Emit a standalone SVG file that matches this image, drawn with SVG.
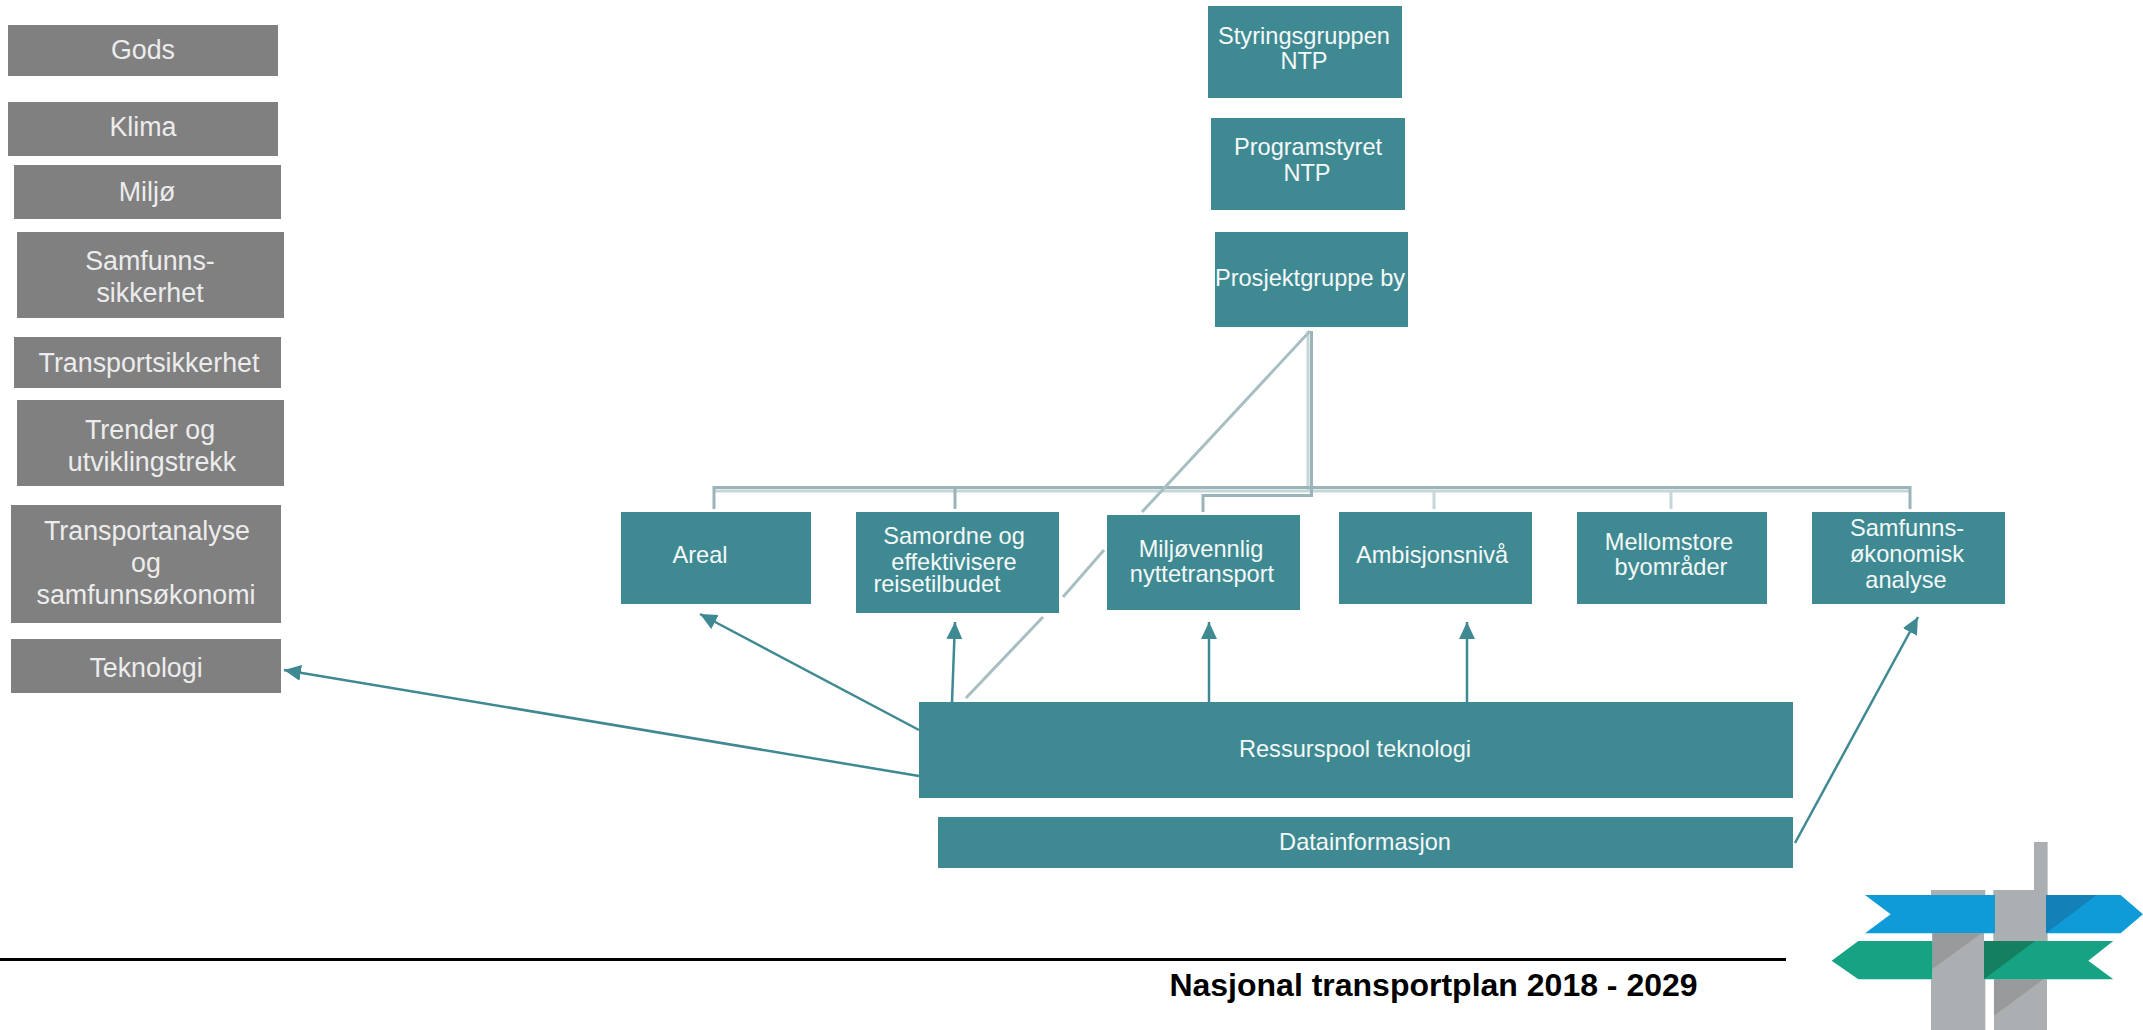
<svg xmlns="http://www.w3.org/2000/svg" width="2143" height="1030" viewBox="0 0 2143 1030">
<style>
.g{fill:#808080}.t{fill:#3f8a92}
text{font-family:"Liberation Sans",Arial,sans-serif;text-anchor:middle}
.gt{fill:#ececec;font-size:26.8px}.tt{fill:#f4f8f8;font-size:23.6px}
.arr{fill:none;stroke:#3f8a92;stroke-width:2.5;marker-end:url(#ah)}
.tree{fill:none;stroke:#9ab4b8;stroke-width:3}
.light{fill:none;stroke:#c5d6d8;stroke-width:3}
.diag{fill:none;stroke:#a8bfc2;stroke-width:3}
</style>
<defs>
<marker id="ah" markerUnits="userSpaceOnUse" markerWidth="18" markerHeight="18" refX="17" refY="8" orient="auto"><path d="M0 0L17 8L0 16Z" fill="#3f8a92"/></marker>
</defs>
<rect width="2143" height="1030" fill="#fff"/>
<g id="connectors">
<path class="light" d="M714 491H1910M1434 491V509M1671 491V509M1308 331V491"/>
<path class="tree" d="M714 509V487.500H1910V509M955 487.500V509M1311.500 331V495.500H1203V512"/>
<path class="diag" d="M1310 331L1142 512M1104 550L1063 597M1043 617L966 698"/>
<path class="arr" d="M919 730L700 614"/>
<path class="arr" d="M919 776L284 670"/>
<path class="arr" d="M952 702L955 622"/>
<path class="arr" d="M1209 702V622"/>
<path class="arr" d="M1467 702V622"/>
<path class="arr" d="M1795 843L1918 617"/>
</g>
<g id="n-gods"><rect class="g" x="8" y="25" width="270" height="51"/><text class="gt" x="143" y="59">Gods</text></g>
<g id="n-klima"><rect class="g" x="8" y="102" width="270" height="54"/><text class="gt" x="143" y="136">Klima</text></g>
<g id="n-miljo"><rect class="g" x="14" y="165" width="267" height="54"/><text class="gt" x="147" y="201">Miljø</text></g>
<g id="n-samfunnssikkerhet"><rect class="g" x="17" y="232" width="267" height="86"/><text class="gt" x="150" y="270">Samfunns-</text><text class="gt" x="150" y="302">sikkerhet</text></g>
<g id="n-transportsikkerhet"><rect class="g" x="14" y="337" width="267" height="51"/><text class="gt" x="149" y="372">Transportsikkerhet</text></g>
<g id="n-trender"><rect class="g" x="17" y="400" width="267" height="86"/><text class="gt" x="150" y="439">Trender og</text><text class="gt" x="152" y="471">utviklingstrekk</text></g>
<g id="n-transportanalyse"><rect class="g" x="11" y="505" width="270" height="118"/><text class="gt" x="147" y="540">Transportanalyse</text><text class="gt" x="146" y="572">og</text><text class="gt" x="146" y="604">samfunnsøkonomi</text></g>
<g id="n-teknologi"><rect class="g" x="11" y="639" width="270" height="54"/><text class="gt" x="146" y="677">Teknologi</text></g>
<g id="n-styringsgruppen"><rect class="t" x="1208" y="6" width="194" height="92"/><text class="tt" x="1304" y="44">Styringsgruppen</text><text class="tt" x="1304" y="69">NTP</text></g>
<g id="n-programstyret"><rect class="t" x="1211" y="118" width="194" height="92"/><text class="tt" x="1308" y="155">Programstyret</text><text class="tt" x="1307" y="181">NTP</text></g>
<g id="n-prosjektgruppe"><rect class="t" x="1215" y="232" width="193" height="95"/><text class="tt" x="1310" y="286">Prosjektgruppe by</text></g>
<g id="n-areal"><rect class="t" x="621" y="512" width="190" height="92"/><text class="tt" x="700" y="563">Areal</text></g>
<g id="n-samordne"><rect class="t" x="856" y="512" width="203" height="101"/><text class="tt" x="954" y="544">Samordne og</text><text class="tt" x="954" y="570">effektivisere</text><text class="tt" x="937" y="592">reisetilbudet</text></g>
<g id="n-miljovennlig"><rect class="t" x="1107" y="515" width="193" height="95"/><text class="tt" x="1201" y="557">Miljøvennlig</text><text class="tt" x="1202" y="582">nyttetransport</text></g>
<g id="n-ambisjon"><rect class="t" x="1339" y="512" width="193" height="92"/><text class="tt" x="1432" y="563">Ambisjonsnivå</text></g>
<g id="n-mellomstore"><rect class="t" x="1577" y="512" width="190" height="92"/><text class="tt" x="1669" y="550">Mellomstore</text><text class="tt" x="1671" y="575">byområder</text></g>
<g id="n-samfunnsokonomisk"><rect class="t" x="1812" y="512" width="193" height="92"/><text class="tt" x="1907" y="536">Samfunns-</text><text class="tt" x="1907" y="562">økonomisk</text><text class="tt" x="1906" y="588">analyse</text></g>
<g id="n-ressurspool"><rect class="t" x="919" y="702" width="874" height="96"/><text class="tt" x="1355" y="757">Ressurspool teknologi</text></g>
<g id="n-datainformasjon"><rect class="t" x="938" y="817" width="855" height="51"/><text class="tt" x="1365" y="850">Datainformasjon</text></g>
<rect x="0" y="958" width="1786" height="3" fill="#000"/>
<text x="1433.500" y="996" font-size="32" font-weight="700" fill="#000">Nasjonal transportplan 2018 - 2029</text>
<g id="logo" transform="translate(1780 820) scale(.3333)">
<path fill="#abafb1" d="M762 66H803V210H762ZM453 210H616V340H453ZM640 210H803V363H640ZM457 340H612V478H457ZM453 478H616V630H453ZM642 478H801V630H642Z"/>
<path fill="#0f9bd7" d="M255 225H645V340H255L332 283ZM798 225H1022L1089 283L1022 340H798Z"/>
<path fill="#1380b8" d="M798 225H950L798 340Z"/>
<path fill="#999a9b" d="M457 340H605L457 447ZM642 478H790L642 587Z"/>
<path fill="#15a383" d="M155 422L235 363H457V478H235ZM612 363H1000L925 422L1000 478H612Z"/>
<path fill="#14805f" d="M612 363H765L612 478Z"/>
</g>
</svg>
